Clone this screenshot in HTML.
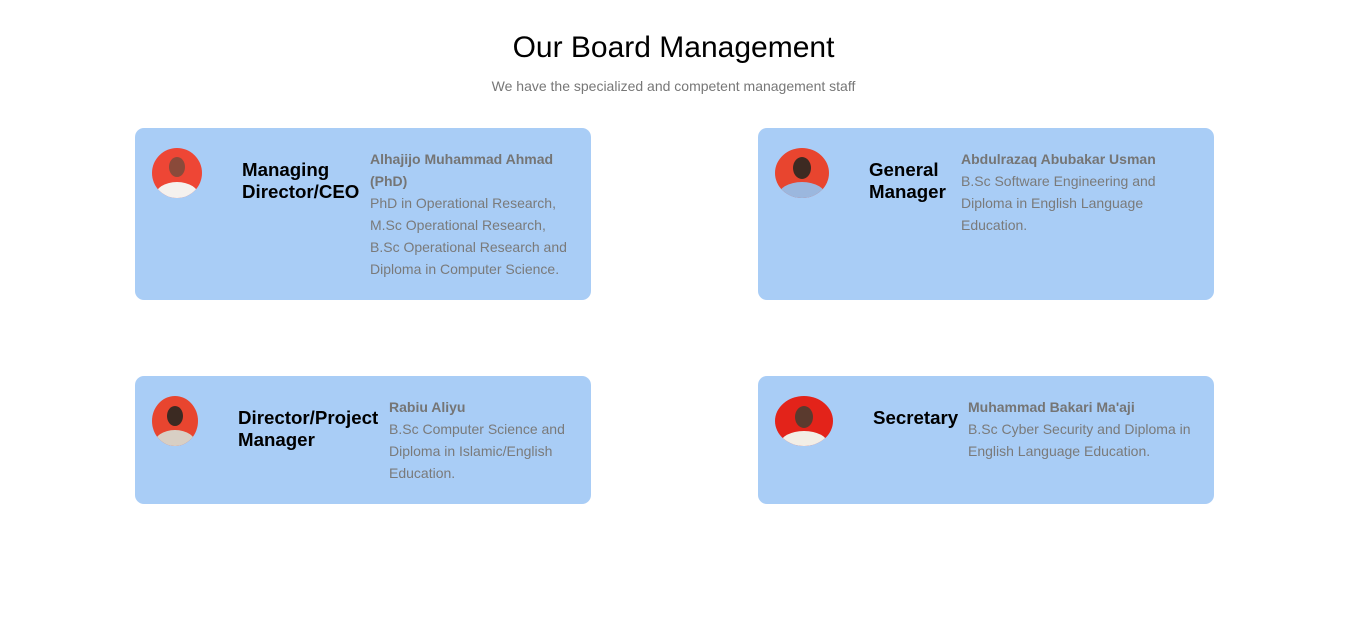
<!DOCTYPE html>
<html><head><meta charset="utf-8"><style>
body{margin:0;width:1347px;height:622px;background:#fff;font-family:"Liberation Sans",Arial,sans-serif;position:relative;overflow:hidden}
.abs{position:absolute}
h1{position:absolute;left:0;width:1347px;top:30px;margin:0;text-align:center;font-weight:400;font-size:30px;line-height:36px;color:#000}
.sub{left:0;width:1347px;top:77px;text-align:center;font-size:14px;color:#777;line-height:18px}
.card{background:#a9cdf6;border-radius:9px;width:456px}
.role{font-size:18.7px;font-weight:700;line-height:22px;color:#000}
.det{font-size:14px;line-height:22px;color:#7a7a7a}
.det b{color:#757575}
.av{overflow:hidden;border-radius:50%}
</style></head><body>
<h1>Our Board Management</h1>
<div class="abs sub">We have the specialized and competent management staff</div>

<div class="abs card" style="left:135px;top:128px;height:172px"></div>
<div class="abs card" style="left:758px;top:128px;height:172px"></div>
<div class="abs card" style="left:135px;top:376px;height:128px"></div>
<div class="abs card" style="left:758px;top:376px;height:128px"></div>

<svg class="abs av" style="left:152px;top:148px" width="50" height="50"><rect width="50" height="50" fill="#ee4635"/><ellipse cx="25" cy="48" rx="22" ry="14" fill="#f5f1ee"/><ellipse cx="25" cy="19" rx="8" ry="10" fill="#8a4a3a"/></svg>
<svg class="abs av" style="left:775px;top:148px;border-radius:50%" width="54" height="50"><rect width="54" height="50" fill="#e8452f"/><ellipse cx="27" cy="48" rx="24" ry="14" fill="#9bb7de"/><ellipse cx="27" cy="20" rx="9" ry="11" fill="#3d2a22"/></svg>
<svg class="abs av" style="left:152px;top:396px" width="46" height="50"><rect width="46" height="50" fill="#e8452f"/><ellipse cx="23" cy="48" rx="21" ry="14" fill="#d8cfc4"/><ellipse cx="23" cy="20" rx="8" ry="10" fill="#3b2a22"/></svg>
<svg class="abs av" style="left:775px;top:396px" width="58" height="50"><rect width="58" height="50" fill="#e3231a"/><ellipse cx="29" cy="48" rx="24" ry="13" fill="#f2eee6"/><ellipse cx="29" cy="21" rx="9" ry="11" fill="#5a3a2e"/></svg>

<div class="abs role" style="left:242px;top:159px">Managing<br>Director/CEO</div>
<div class="abs role" style="left:869px;top:159px">General<br>Manager</div>
<div class="abs role" style="left:238px;top:407px">Director/Project<br>Manager</div>
<div class="abs role" style="left:873px;top:407px">Secretary</div>

<div class="abs det" style="left:370px;top:148px;width:200px"><b>Alhajijo Muhammad Ahmad (PhD)</b><br>PhD in Operational Research, M.Sc Operational Research, B.Sc Operational Research and Diploma in Computer Science.</div>
<div class="abs det" style="left:961px;top:148px;width:220px"><b>Abdulrazaq Abubakar Usman</b><br>B.Sc Software Engineering and Diploma in English Language Education.</div>
<div class="abs det" style="left:389px;top:396px;width:190px"><b>Rabiu Aliyu</b><br>B.Sc Computer Science and Diploma in Islamic/English Education.</div>
<div class="abs det" style="left:968px;top:396px;width:236px"><b>Muhammad Bakari Ma'aji</b><br>B.Sc Cyber Security and Diploma in English Language Education.</div>
</body></html>
